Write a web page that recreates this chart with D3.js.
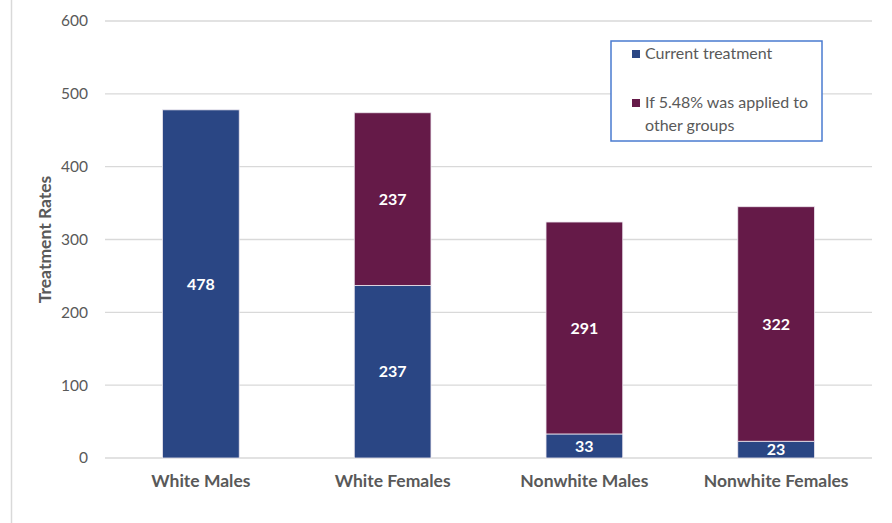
<!DOCTYPE html>
<html>
<head>
<meta charset="utf-8">
<script src="https://cdn.jsdelivr.net/npm/d3@7"></script>
<style>
  body { margin: 0; background: #fff; }
  svg { display: block; font-family: Lato, "Open Sans", sans-serif; }
</style>
</head>
<body>
<svg id="chart" width="892" height="523"></svg>
<script>
// data
const groups = ['White Males', 'White Females', 'Nonwhite Males', 'Nonwhite Females'];
const current = [478, 237, 33, 23];
const applied = [0, 237, 291, 322];
const seriesNames = ['Current treatment', 'If 5.48% was applied to other groups'];
const yTicks = [0, 100, 200, 300, 400, 500, 600];

const colors = ['#2a4684', '#651a48'];
const textGray = '#595959';

const svg = d3.select('#chart');

// plot area
const margin = { top: 21, right: 20, bottom: 65, left: 105 };
const width = 892 - margin.left - margin.right;
const height = 523 - margin.top - margin.bottom;

// left frame line
svg.append('line')
    .attr('x1', 11.5).attr('x2', 11.5)
    .attr('y1', 0).attr('y2', 523)
    .attr('stroke', '#d9d9d9')
    .attr('stroke-width', 1.5);

const g = svg.append('g')
    .attr('transform', 'translate(' + margin.left + ',' + margin.top + ')');

const x = d3.scaleBand()
    .domain(groups)
    .range([0, width])
    .paddingInner(0.6)
    .paddingOuter(0.3);

const y = d3.scaleLinear()
    .domain([0, 600])
    .range([height, 0]);

// gridlines
g.append('g')
    .selectAll('line')
    .data(yTicks)
    .enter().append('line')
    .attr('x1', 0)
    .attr('x2', width)
    .attr('y1', d => y(d))
    .attr('y2', d => y(d))
    .attr('stroke', '#d9d9d9')
    .attr('stroke-width', 1.3);

// y axis labels
const yAxis = d3.axisLeft(y).tickValues(yTicks).tickSize(0).tickPadding(17);
g.append('g')
    .call(yAxis)
    .call(a => a.select('.domain').remove())
    .selectAll('text')
    .attr('font-family', 'Lato, "Open Sans", sans-serif')
    .attr('font-size', 15.5)
    .attr('fill', textGray);

// x axis labels
g.append('g')
    .attr('transform', 'translate(0,' + height + ')')
    .call(d3.axisBottom(x).tickSize(0).tickPadding(17))
    .call(a => a.select('.domain').remove())
    .selectAll('text')
    .attr('font-family', 'Lato, "Open Sans", sans-serif')
    .attr('font-size', 17.5)
    .attr('font-weight', 'bold')
    .attr('fill', textGray);

// y axis title
svg.append('text')
    .attr('transform', 'translate(51,' + (margin.top + height / 2) + ') rotate(-90)')
    .attr('text-anchor', 'middle')
    .attr('font-size', 17.5)
    .attr('font-weight', 'bold')
    .attr('fill', textGray)
    .text('Treatment Rates');

// stacked bars
const table = groups.map((grp, i) => ({ group: grp, current: current[i], applied: applied[i] }));
const stack = d3.stack().keys(['current', 'applied'])(table);

const layers = g.selectAll('.layer')
    .data(stack)
    .enter().append('g')
    .attr('class', 'layer')
    .attr('fill', (d, i) => colors[i]);

layers.selectAll('rect')
    .data(d => d.filter(s => s[1] - s[0] > 0))
    .enter().append('rect')
    .attr('x', d => x(d.data.group))
    .attr('width', x.bandwidth())
    .attr('y', d => y(d[1]))
    .attr('height', d => y(d[0]) - y(d[1]))
    .attr('stroke', '#ece6ee')
    .attr('stroke-width', 0.8);

layers.selectAll('text')
    .data(d => d.filter(s => s[1] - s[0] > 0))
    .enter().append('text')
    .attr('x', d => x(d.data.group) + x.bandwidth() / 2)
    .attr('y', d => y((d[0] + d[1]) / 2))
    .attr('dy', '0.36em')
    .attr('text-anchor', 'middle')
    .attr('font-size', 16)
    .attr('font-weight', 'bold')
    .attr('fill', '#fff')
    .text(d => d[1] - d[0]);

// legend
const legend = svg.append('g').attr('transform', 'translate(611,41)');
legend.append('rect')
    .attr('width', 211)
    .attr('height', 100)
    .attr('fill', '#fff')
    .attr('stroke', '#4a7bd0')
    .attr('stroke-width', 1.5);

const legendRows = [
    { lines: ['Current treatment'], y: 18 },
    { lines: ['If 5.48% was applied to', 'other groups'], y: 67 }
];

legendRows.forEach((row, i) => {
    legend.append('rect')
        .attr('x', 21)
        .attr('y', row.y - 9)
        .attr('width', 8)
        .attr('height', 8)
        .attr('fill', colors[i]);
    const t = legend.append('text')
        .attr('x', 34)
        .attr('y', row.y)
        .attr('font-size', 16)
        .attr('fill', textGray);
    row.lines.forEach((ln, j) => {
        t.append('tspan').attr('x', 34).attr('dy', j === 0 ? 0 : 23).text(ln);
    });
});
</script>
</body>
</html>
